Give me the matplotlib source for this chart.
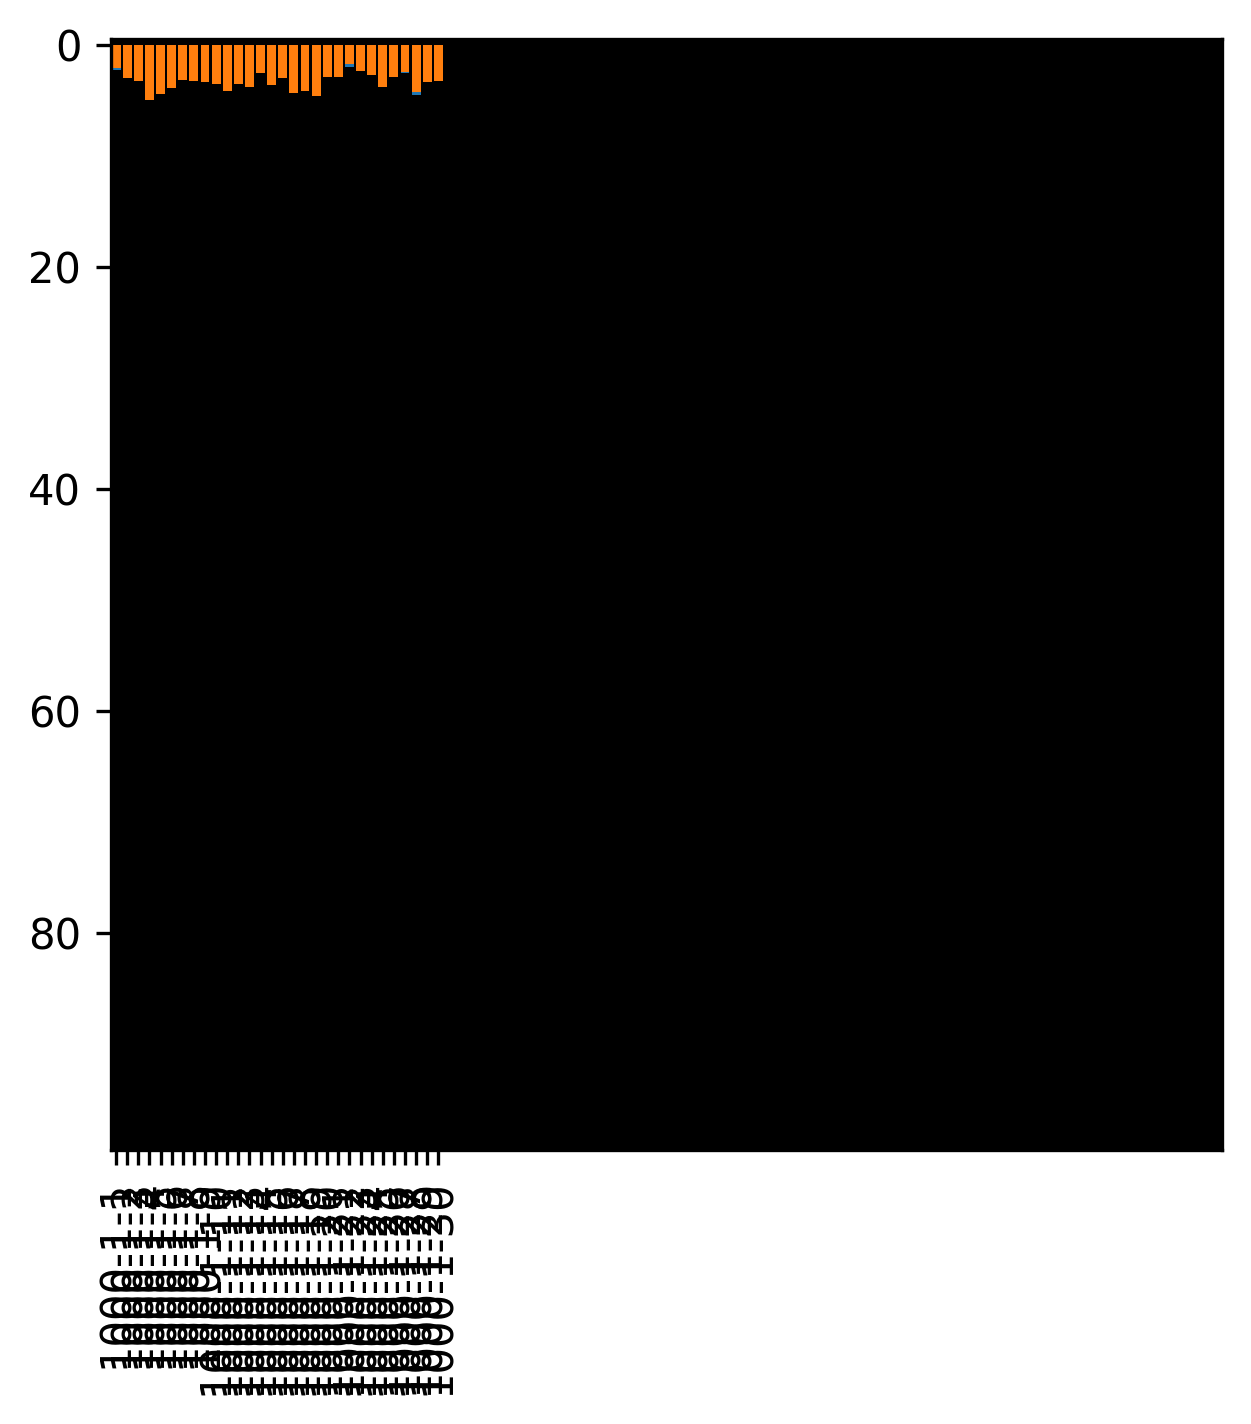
import numpy as np
import matplotlib
matplotlib.use("Agg")
import matplotlib.pyplot as plt

# background image: 100 x 100 zeros shown in gray -> black square
grid = np.zeros((100, 100))

days = ["1000-1-1", "1000-1-2", "1000-1-3", "1000-1-4", "1000-1-5",
        "1000-1-6", "1000-1-7", "1000-1-8", "1000-1-9", "1000-1-10",
        "1000-1-11", "1000-1-12", "1000-1-13", "1000-1-14", "1000-1-15",
        "1000-1-16", "1000-1-17", "1000-1-18", "1000-1-19", "1000-1-20",
        "1000-1-21", "1000-1-22", "1000-1-23", "1000-1-24", "1000-1-25",
        "1000-1-26", "1000-1-27", "1000-1-28", "1000-1-29", "1000-1-30"]

blue_vals = [2.28, 2.6, 2.9, 4.3, 3.9, 3.4, 2.8, 2.9, 3.0, 3.1,
             3.7, 3.1, 3.4, 2.2, 3.2, 2.6, 3.9, 3.7, 4.1, 2.5,
             2.5, 2.0, 2.1, 2.4, 3.4, 2.5, 2.54, 4.52, 3.0, 2.9]
orange_vals = [2.1, 3.0, 3.26, 4.97, 4.43, 3.89, 3.17, 3.26, 3.35, 3.53,
               4.16, 3.53, 3.8, 2.54, 3.62, 3.0, 4.34, 4.16, 4.61, 2.9,
               2.9, 1.74, 2.37, 2.72, 3.8, 2.9, 2.46, 4.25, 3.35, 3.26]

fig = plt.figure(figsize=(1251 / 300, 1424 / 300), dpi=300)
ax = fig.add_axes([0.0879, 0.1924, 0.8890, 0.7802])
ax.imshow(grid, cmap="gray")

x = np.arange(len(days))
ax.bar(x, blue_vals, width=0.8, color="#1f77b4")
ax.bar(x, orange_vals, width=0.8, color="#ff7f0e")

ax.set_xticks(x)
ax.set_xticklabels(days, rotation=90)
ax.set_xlim(-0.5, 99.5)
ax.set_ylim(99.5, -0.5)

fig.savefig("out.png", dpi=300)
